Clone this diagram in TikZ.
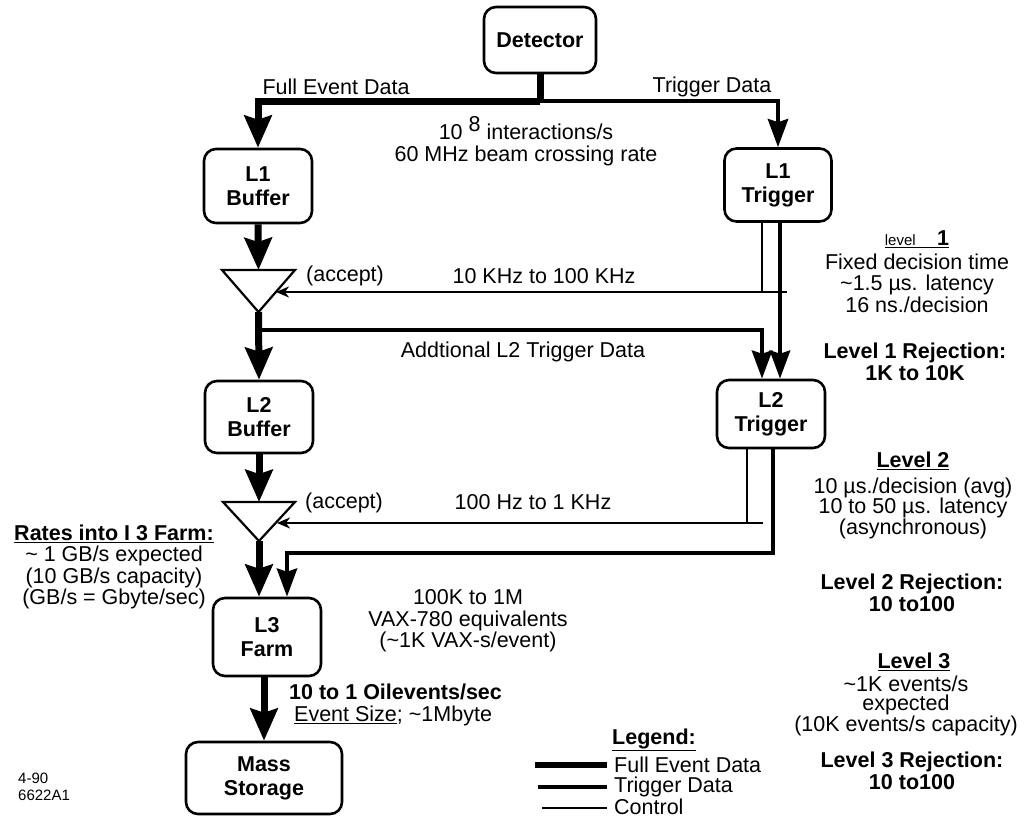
\documentclass[tikz,border=0pt]{standalone}
\usepackage{fontspec}
\setmainfont{Liberation Sans}
\usetikzlibrary{arrows.meta,calc}
\begin{document}
\begin{tikzpicture}[x=1pt,y=-1pt,
  box/.style={draw, line width=2.6pt, rounded corners=12pt, minimum width=108pt, minimum height=74pt,
    align=center, font=\fontsize{21.5}{24}\selectfont\bfseries, inner sep=0pt},
  lbl/.style={align=center, inner sep=0pt, font=\fontsize{21.5}{21.5}\selectfont},
  blbl/.style={align=center, inner sep=0pt, font=\fontsize{21.5}{22.5}\selectfont\bfseries},
  full/.style={line width=7pt},
  trig/.style={line width=4.5pt},
  ctrl/.style={line width=1.8pt},
  fullarr/.style={full, -{Stealth[length=32pt,width=27pt,inset=4pt]}},
  trigarr/.style={trig, -{Stealth[length=28pt,width=20pt,inset=3pt]}},
  ctrlarr/.style={ctrl, -{Stealth[length=13pt,width=11pt,inset=4pt]}},
  gate/.style={line width=2.2pt, line join=miter}
]
\path[use as bounding box] (0,0) rectangle (1027,820);

% boxes
\node[box, minimum width=112pt, minimum height=66pt] (det) at (540,40) {Detector};
\node[box] (l1b) at (258,186) {L1\\Buffer};
\node[box, minimum width=107pt, minimum height=73pt] (l1t) at (778,185) {L1\\Trigger};
\node[box, minimum height=72pt] (l2b) at (259,417) {L2\\Buffer};
\node[box, minimum height=68pt] (l2t) at (771,414) {L2\\Trigger};
\node[box, minimum height=78pt] (l3) at (267,637) {L3\\Farm};
\node[box, minimum width=156pt, minimum height=72pt] (mass) at (264,778) {Mass\\Storage};

% accept gates
\coordinate (g1top) at (258.5,270);
\coordinate (g1apex) at (258.5,312);
\draw[gate] (222,270) -- (295,270) -- (g1apex) -- cycle;
\coordinate (g2top) at (259,502);
\coordinate (g2apex) at (259,541);
\draw[gate] (223,502) -- (295,502) -- (g2apex) -- cycle;

% top distribution
\coordinate (split) at (540,101);
\draw[full] (det.south) -- (split);
\draw[fullarr] (split) -| (l1b.north);
\draw[trigarr] (split) -| (l1t.north);

% level 1
\draw[fullarr] (l1b.south) -- (g1top);
\coordinate (c1) at (762,292);
\coordinate (c1e) at (787,292);
\coordinate (g1in) at (276,292);
\coordinate (t1x) at (780,0);
\draw[ctrl] (l1t.south -| c1) -- (c1);
\draw[ctrlarr] (c1e) -- (g1in);
\draw[trigarr] (l1t.south -| t1x) -- (l2t.north -| t1x);
\draw[fullarr] (g1apex) -- (l2b.north);
\coordinate (b1) at (258.5,330);
\draw[trigarr] (b1) -| (l2t.north -| c1);

% level 2
\draw[fullarr] (l2b.south) -- (g2top);
\coordinate (c2) at (747,523);
\coordinate (c2e) at (763,523);
\coordinate (g2in) at (277,523);
\coordinate (t2x) at (773,0);
\coordinate (l3tr) at (287,553);
\draw[ctrl] (l2t.south -| c2) -- (c2);
\draw[ctrlarr] (c2e) -- (g2in);
\draw[trigarr] (l2t.south -| t2x) |- (l3tr) -- (l3.north -| l3tr);
\draw[fullarr] (g2apex) -- (l3.north -| g2apex);

% level 3
\draw[fullarr] (l3.south -| mass.north) -- (mass.north);

% labels
\node[lbl] (fed) at (336,87) {Full Event Data};
\node[lbl] (tdl) at (712,87) {Trigger Data};
\node[lbl] (rate) at (526,141) {10 \raisebox{8pt}{8} interactions/s\\60 MHz beam crossing rate};
\node[lbl, anchor=west] (acc1) at (306,276) {(accept)};
\node[lbl] (r1) at (544,276) {10 KHz to 100 KHz};
\node[lbl] (add) at (523,352) {Addtional L2 Trigger Data};
\node[lbl, anchor=west] (acc2) at (305,503) {(accept)};
\node[lbl] (r2) at (533,502) {100 Hz to 1 KHz};
\node[lbl] (vax) at (468,621) {100K to 1M\\VAX-780 equivalents\\(\textasciitilde1K VAX-s/event)};
\node[lbl, anchor=west, font=\fontsize{21.5}{21.5}\selectfont\bfseries] (evs) at (289,692) {10 to 1 Oilevents/sec};
\node[lbl, anchor=west] (esz) at (294,716) {\underline{Event Size}; \textasciitilde1Mbyte};

% left notes
\node[lbl] (rates) at (114,567) {\underline{\textbf{Rates into I 3 Farm:}}\\\textasciitilde{} 1 GB/s expected\\(10 GB/s capacity)\\(GB/s = Gbyte/sec)};
\node[lbl, anchor=west, align=left, font=\fontsize{15}{17}\selectfont] (code) at (18,787) {4-90\\6622A1};

% right column
\node[lbl] (lv1h) at (917,239) {\underline{{\fontsize{15}{15}\selectfont level}\quad\textbf{1}}};
\node[lbl] (lv1) at (917,283) {Fixed decision time\\\textasciitilde1.5 µs. latency\\16 ns./decision};
\node[blbl] (lv1r) at (915,362) {Level 1 Rejection:\\1K to 10K};
\node[blbl] (lv2h) at (913,461) {\underline{Level 2}};
\node[lbl, font=\fontsize{21.5}{20.5}\selectfont] (lv2) at (913,508) {10 µs./decision (avg)\\10 to 50 µs. latency\\(asynchronous)};
\node[blbl] (lv2r) at (912,593) {Level 2 Rejection:\\10 to100};
\node[blbl] (lv3h) at (914,662) {\underline{Level 3}};
\node[lbl, font=\fontsize{21.5}{19.5}\selectfont] (lv3) at (906,706) {\textasciitilde1K events/s\\expected\\(10K events/s capacity)};
\node[blbl] (lv3r) at (912,771) {Level 3 Rejection:\\10 to100};

% legend
\node[blbl] (leg) at (654,740) {\underline{Legend:}};
\draw[line width=6pt] (535,765) -- (607,765);
\draw[line width=4pt] (538,787) -- (607,787);
\draw[line width=1.6pt] (542,808) -- (607,808);
\node[lbl, anchor=west] (legf) at (614,765) {Full Event Data};
\node[lbl, anchor=west] (legt) at (614,787) {Trigger Data};
\node[lbl, anchor=west] (legc) at (614,807) {Control};
\end{tikzpicture}
\end{document}
